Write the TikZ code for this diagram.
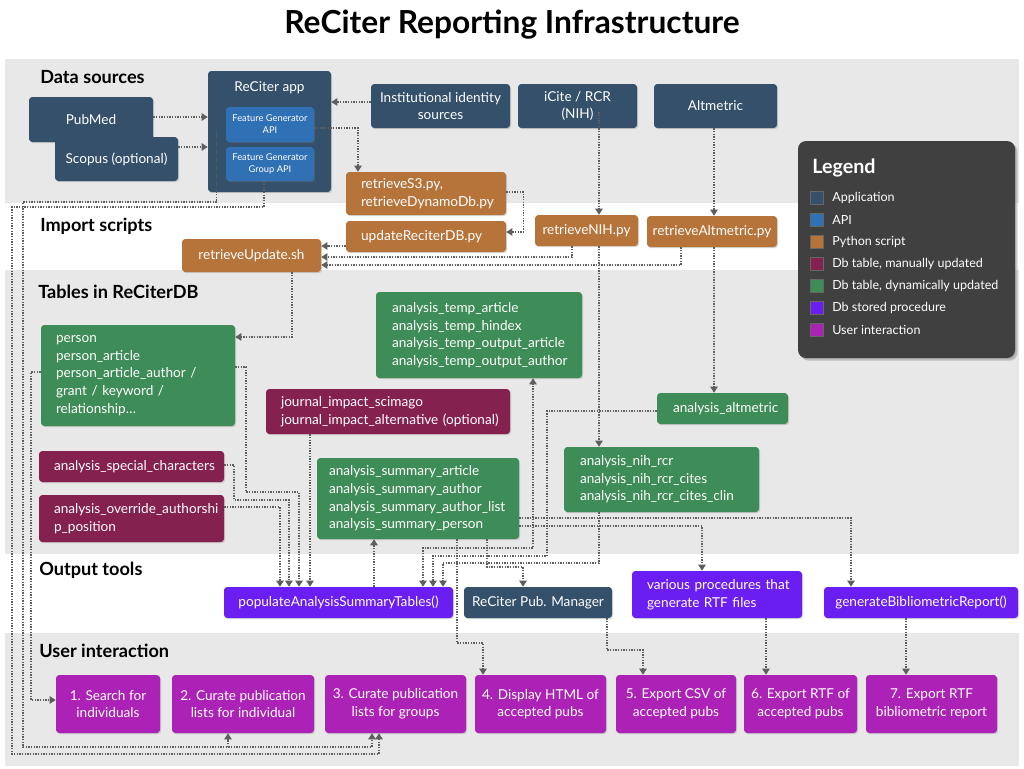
\documentclass[tikz,border=0pt]{standalone}
\usepackage{fontspec}
\setmainfont{Lato}
\hyphenpenalty=10000
\exhyphenpenalty=10000
\usetikzlibrary{arrows.meta,shadows,calc}
\definecolor{appc}{HTML}{35506B}
\definecolor{apic}{HTML}{3070B5}
\definecolor{pyc}{HTML}{B6733A}
\definecolor{manc}{HTML}{85214F}
\definecolor{dync}{HTML}{3E8C57}
\definecolor{procc}{HTML}{6B1EF2}
\definecolor{userc}{HTML}{AC22B6}
\definecolor{legc}{HTML}{404040}
\definecolor{bandc}{HTML}{E8E8E8}
\definecolor{connc}{HTML}{5E5E5E}
\newcommand\mybox[7]{\node[#2, minimum width={(#5-#3)*0.75pt}, minimum height={(#6-#4)*0.75pt}] (#1) at ({(#3+#5)/2},{(#4+#6)/2}) {#7};}
\newcommand\myboxl[8]{\pgfmathsetmacro\bxtw{(#5-#3-2*#7)*0.75}\pgfmathsetmacro\bxpad{#7*0.75}\node[#2, align=left, text width=\bxtw pt, inner xsep=\bxpad pt, minimum width={(#5-#3)*0.75pt}, minimum height={(#6-#4)*0.75pt}] (#1) at ({(#3+#5)/2},{(#4+#6)/2}) {#8};}
\begin{document}
\begin{tikzpicture}[x=0.75pt,y=-0.75pt,
  box/.style={rounded corners=2.5pt, text=white, inner sep=0pt, drop shadow={opacity=0.3, shadow xshift=0.8pt, shadow yshift=-0.9pt}, font=\fontsize{10.2}{13.2}\selectfont},
  app/.style={box, fill=appc},
  api/.style={box, fill=apic, font=\fontsize{7}{9}\selectfont, align=center},
  py/.style={box, fill=pyc},
  man/.style={box, fill=manc},
  dyn/.style={box, fill=dync},
  proc/.style={box, fill=procc},
  user/.style={box, fill=userc, align=center},
  conn/.style={draw=connc, line width=1pt, dash pattern=on 1pt off 1pt},
  arr/.style={conn, -{Triangle[length=4.5pt,width=5.5pt]}},
  arrb/.style={conn, {Triangle[length=4.5pt,width=5.5pt]}-{Triangle[length=4.5pt,width=5.5pt]}},
  hd/.style={font=\fontsize{13.6}{16}\selectfont\bfseries, anchor=west, inner sep=0pt},
  lgt/.style={anchor=west, text=white, inner sep=0pt, font=\fontsize{9.4}{11}\selectfont},
  lsq/.style={draw=black!60, line width=0.5pt, minimum size=9.5pt, inner sep=0pt}
]
\useasboundingbox (0,0) rectangle (1024,768);
% bands
\fill[bandc] (5,59) rectangle (1019,203);
\fill[bandc] (5,270) rectangle (1019,554);
\fill[bandc] (5,633) rectangle (1019,766);
% title and headings
\node[font=\fontsize{23.8}{28}\selectfont\bfseries, inner sep=0pt] (title) at (512,25) {ReCiter Reporting Infrastructure};
\node[hd] (h1) at (40,77) {Data sources};
\node[hd] (h2) at (40,226) {Import scripts};
\node[hd] (h3) at (38,292) {Tables in ReCiterDB};
\node[hd] (h4) at (39,570) {Output tools};
\node[hd] (h5) at (39,651) {User interaction};
% data sources
\mybox{pubmed}{app}{29}{97}{153}{142}{PubMed}
\mybox{scopus}{app}{55}{137}{178}{181}{Scopus (optional)}
\mybox{app}{app, label={[anchor=north, inner sep=0pt, text=white, font=\fontsize{10.2}{12}\selectfont, yshift=-8pt]north:ReCiter app}}{208}{71}{331}{192}{}
\mybox{fgapi}{api}{226}{107}{314}{142}{Feature Generator\\API}
\mybox{fgg}{api}{226}{147}{314}{181}{Feature Generator\\Group API}
\mybox{inst}{app, align=center}{371}{84}{510}{128}{Institutional identity\\sources}
\mybox{icite}{app, align=center}{518}{84}{637}{128}{iCite / RCR\\(NIH)}
\mybox{alt}{app}{654}{84}{777}{128}{Altmetric}
% legend
\mybox{legend}{box, fill=legc, rounded corners=6pt, drop shadow={opacity=0.4, shadow xshift=2pt, shadow yshift=-2pt}}{798}{141}{1015}{358}{}
\node[font=\fontsize{14.8}{17}\selectfont\bfseries, text=white, anchor=west, inner sep=0pt] (lgtitle) at (812,168) {Legend};
\foreach \c/\t [count=\i] in {appc/Application, apic/API, pyc/Python script, manc/{Db table, manually updated}, dync/{Db table, dynamically updated}, procc/Db stored procedure, userc/User interaction}{
  \node[lsq, fill=\c] (lsq\i) at (816.5,{176+22*\i}) {};
  \node[lgt] (lt\i) at (832,{176+22*\i}) {\t};
}
% import scripts
\myboxl{s3}{py, font=\fontsize{10.3}{13.5}\selectfont}{346}{172}{506}{215}{15}{retrieveS3.py,\\retrieveDynamoDb.py}
\myboxl{upd}{py, font=\fontsize{10.3}{13.5}\selectfont}{346}{221}{506}{252}{15}{updateReciterDB.py}
\mybox{rupd}{py}{182}{239}{321}{272}{retrieveUpdate.sh}
\mybox{nihpy}{py}{535}{215}{638}{246}{retrieveNIH.py}
\mybox{altpy}{py}{647}{216}{777}{247}{retrieveAltmetric.py}
% tables
\myboxl{person}{dyn}{41}{325}{235}{426}{15}{person\\person\_article\\person\_article\_author~/\\grant~/~keyword~/\\relationship\ldots}
\myboxl{temp}{dyn}{376}{292}{582}{378}{16}{analysis\_temp\_article\\analysis\_temp\_hindex\\analysis\_temp\_output\_article\\analysis\_temp\_output\_author}
\myboxl{jour}{man}{266}{389}{510}{434}{15}{journal\_impact\_scimago\\journal\_impact\_alternative~(optional)}
\myboxl{spec}{man}{39}{451}{224}{482}{15}{analysis\_special\_characters}
\myboxl{ovr}{man}{39}{495}{224}{542}{15}{analysis\_override\_authorshi\\p\_position}
\myboxl{summ}{dyn}{317}{458}{519}{539}{12}{analysis\_summary\_article\\analysis\_summary\_author\\analysis\_summary\_author\_list\\analysis\_summary\_person}
\myboxl{altm}{dyn}{657}{393}{788}{424}{16}{analysis\_altmetric}
\myboxl{nih}{dyn}{564}{447}{759}{512}{16}{analysis\_nih\_rcr\\analysis\_nih\_rcr\_cites\\analysis\_nih\_rcr\_cites\_clin}
% output tools
\mybox{pop}{proc}{224}{587}{453}{618}{populateAnalysisSummaryTables()}
\mybox{pm}{app}{464}{587}{612}{618}{ReCiter Pub. Manager}
\myboxl{var}{proc}{632}{571}{802}{618}{15}{various~procedures~that\\generate~RTF~files}
\mybox{gbr}{proc}{824}{587}{1018}{618}{generateBibliometricReport()}
% user interaction
\mybox{u1}{user}{56}{675}{160}{733}{1. Search for\\individuals}
\mybox{u2}{user}{172}{675}{314}{733}{2. Curate publication\\lists for individual}
\mybox{u3}{user}{325}{675}{466}{733}{3. Curate publication\\lists for groups}
\mybox{u4}{user}{475}{675}{606}{733}{4. Display HTML of\\accepted pubs}
\mybox{u5}{user}{616}{675}{736}{733}{5. Export CSV of\\accepted pubs}
\mybox{u6}{user}{744}{675}{857}{733}{6. Export RTF of\\accepted pubs}
\mybox{u7}{user}{866}{675}{997}{733}{7. Export RTF\\bibliometric report}
% connectors: data sources and import
\draw[arr] (pubmed.east |- 0,117) -- (app.west |- 0,117);
\draw[arr] (scopus.east |- 0,147) -- (app.west |- 0,147);
\draw[arr] (inst.west |- 0,102) -- (app.east |- 0,102);
\draw[arr] (fgapi.east |- 0,128) -| (s3.north -| 358,0);
\draw[arr] (s3.east |- 0,192) -- ++(17,0) |- (upd.east |- 0,232);
\draw[arr] (upd.west |- 0,246) -- (rupd.east |- 0,246);
\draw[arr] (nihpy.south -| 572,0) |- (rupd.east |- 0,257);
\draw[arr] (altpy.south -| 681,0) |- (rupd.east |- 0,265);
\draw[arr] ($(icite.south -| 599,0)+(0,-16)$) -- (nihpy.north -| 599,0);
\draw[arr] (alt.south -| 714,0) -- (altpy.north -| 714,0);
\draw[arr] (nihpy.south -| 599,0) -- (nih.north -| 599,0);
\draw[arr] (altpy.south -| 714,0) -- (altm.north -| 714,0);
\draw[arr] (rupd.south -| 292,0) |- (person.east |- 0,337);
% long lines from the APIs to user interaction
\draw[arr] ($(fgapi.west |- 0,130)+(-9,0)$) |- (23,202) -- (23,747) -| (u3.south -| 372,0);
\draw[arr] (228,747) -- (u2.south -| 228,0);
\draw[arr] (fgg.south -| 264,0) |- (12,207) -- (12,754) -| (u3.south -| 379,0);
\draw[arr] (person.west |- 0,372) -| (31,700) -- (u1.west |- 0,700);
% into populate
\draw[arr] (person.east |- 0,367) -| (246,492) -| (pop.north -| 299,0);
\draw[arr] (spec.east |- 0,465) -| (234,500) -| (pop.north -| 289,0);
\draw[arr] (ovr.east |- 0,507) -| (pop.north -| 280,0);
\draw[arr] (jour.south -| 310,0) -- (pop.north -| 310,0);
\draw[arr] (pop.north -| 374,0) -- (summ.south -| 374,0);
\draw[arrb] (pop.north -| 423,0) |- (533,548) -- (temp.south -| 533,0);
\draw[arr] (altm.west |- 0,411) -| (547,556) -| (pop.north -| 433,0);
\draw[arr] (nih.south -| 599,0) |- (443,563) -- (pop.north -| 443,0);
% from summary tables
\draw[arr] (summ.south -| 487,0) |- (523,567) -- (pm.north -| 523,0);
\draw[arr] (summ.south -| 457,0) |- (483,643) -- (u4.north -| 483,0);
\draw[arr] (summ.east |- 0,518) -| (gbr.north -| 851,0);
\draw[arr] (summ.east |- 0,526) -| (var.north -| 702,0);
% output tools to user interaction
\draw[arr] (pm.south -| 607,0) |- (643,650) -- (u5.north -| 643,0);
\draw[arr] (var.south -| 766,0) -- (u6.north -| 766,0);
\draw[arr] (gbr.south -| 906,0) -- (u7.north -| 906,0);
\end{tikzpicture}
\end{document}
